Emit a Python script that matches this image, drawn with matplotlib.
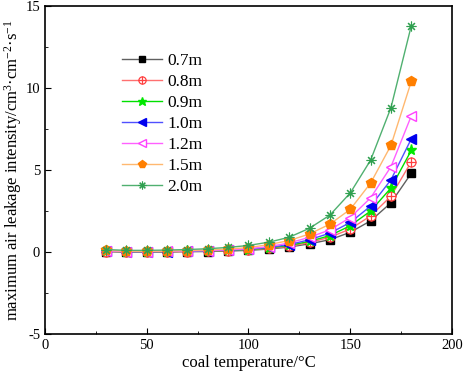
import matplotlib
matplotlib.use("Agg")
import matplotlib.pyplot as plt
from matplotlib.ticker import MultipleLocator

plt.rcParams['font.family'] = ['Liberation Serif', 'DejaVu Serif']
plt.rcParams['axes.unicode_minus'] = False
plt.rcParams['mathtext.fontset'] = 'custom'
plt.rcParams['mathtext.rm'] = 'Liberation Serif'
plt.rcParams['mathtext.it'] = 'Liberation Serif'

temps = [30, 40, 50, 60, 70, 80, 90, 100, 110, 120, 130, 140, 150, 160, 170, 180]
labels = ["0.7m", "0.8m", "0.9m", "1.0m", "1.2m", "1.5m", "2.0m"]
s07 = [0.02, 0.0, 0.0, 0.0, 0.02, 0.03, 0.06, 0.1, 0.18, 0.3, 0.5, 0.75, 1.2, 1.9, 3.0, 4.8]
s08 = [0.03, 0.01, 0.01, 0.01, 0.03, 0.05, 0.08, 0.13, 0.22, 0.35, 0.58, 0.9, 1.4, 2.2, 3.4, 5.5]
s09 = [0.05, 0.02, 0.02, 0.03, 0.05, 0.07, 0.1, 0.15, 0.25, 0.4, 0.65, 1.0, 1.6, 2.5, 3.9, 6.2]
s10 = [0.05, 0.02, 0.02, 0.03, 0.05, 0.08, 0.11, 0.17, 0.28, 0.45, 0.75, 1.15, 1.8, 2.8, 4.4, 6.9]
s12 = [0.06, 0.03, 0.03, 0.04, 0.06, 0.09, 0.13, 0.2, 0.33, 0.55, 0.9, 1.35, 2.1, 3.3, 5.2, 8.3]
s15 = [0.1, 0.05, 0.05, 0.06, 0.09, 0.13, 0.18, 0.27, 0.45, 0.7, 1.1, 1.7, 2.6, 4.2, 6.5, 10.4]
s20 = [0.15, 0.1, 0.1, 0.12, 0.15, 0.2, 0.28, 0.4, 0.6, 0.9, 1.45, 2.25, 3.6, 5.6, 8.8, 13.8]
series = [s07, s08, s09, s10, s12, s15, s20]

colors = ["#000000", "#ff4040", "#00e800", "#0000ee", "#ff40ff", "#ff7f00", "#30a050"]
line_colors = ["#606060", "#ff7070", "#00e000", "#5050ff", "#ff60ff", "#ffb870", "#50b070"]

fig = plt.figure(figsize=(4.64, 3.74), dpi=100)
ax = fig.add_axes([45/464, 40/374, 407/464, 328/374])

handles = []
for i, (lab, ys) in enumerate(zip(labels, series)):
    c, lc = colors[i], line_colors[i]
    if i == 0:
        h = ax.plot(temps, ys, color=lc, lw=1.0, marker='s', ms=5.5, mfc=c, mec=c, label=lab)[0]
        handles.append(h)
    elif i == 1:
        h1 = ax.plot(temps, ys, color=lc, lw=1.0, marker='o', ms=6.5, mfc='white', mec=c, mew=0.9, label=lab)[0]
        h2 = ax.plot(temps, ys, ls='none', marker='+', ms=6.5, mec=c, mew=0.9)[0]
        handles.append((h1, h2))
    elif i == 2:
        h = ax.plot(temps, ys, color=lc, lw=1.0, marker='*', ms=8, mfc=c, mec=c, label=lab)[0]
        handles.append(h)
    elif i == 3:
        h = ax.plot(temps, ys, color=lc, lw=1.0, marker='<', ms=7, mfc=c, mec=c, label=lab)[0]
        handles.append(h)
    elif i == 4:
        h = ax.plot(temps, ys, color=lc, lw=1.0, marker='<', ms=7, mfc='white', mec=c, label=lab)[0]
        handles.append(h)
    elif i == 5:
        h = ax.plot(temps, ys, color=lc, lw=1.0, marker='p', ms=7.5, mfc=c, mec=c, label=lab)[0]
        handles.append(h)
    else:
        h = ax.plot(temps, ys, color=lc, lw=1.0, marker=(8, 2, 0), ms=7, mfc=c, mec=c, mew=0.8, label=lab)[0]
        handles.append(h)

ax.set_xlim(0, 200)
ax.set_ylim(-5, 15)
ax.xaxis.set_major_locator(MultipleLocator(50))
ax.xaxis.set_minor_locator(MultipleLocator(25))
ax.yaxis.set_major_locator(MultipleLocator(5))
ax.yaxis.set_minor_locator(MultipleLocator(2.5))
ax.tick_params(which='both', direction='in', top=False, right=False, labelsize=10.5)
ax.tick_params(which='major', length=4)
ax.tick_params(which='minor', length=2.5)
for sp in ax.spines.values():
    sp.set_linewidth(1.2)

ax.set_xlabel("coal temperature/\u00b0C", fontsize=12, labelpad=2)
ax.set_ylabel("maximum air leakage intensity/cm$^{3}$\u00b7cm$^{-2}$\u00b7s$^{-1}$", fontsize=12, labelpad=1)

leg = ax.legend(handles, labels, loc='upper left', bbox_to_anchor=(0.15, 0.905), frameon=False,
                fontsize=12.5, handlelength=2.3, labelspacing=0.28, handletextpad=0.35,
                markerscale=0.8)

fig.savefig("out.png", dpi=100)
